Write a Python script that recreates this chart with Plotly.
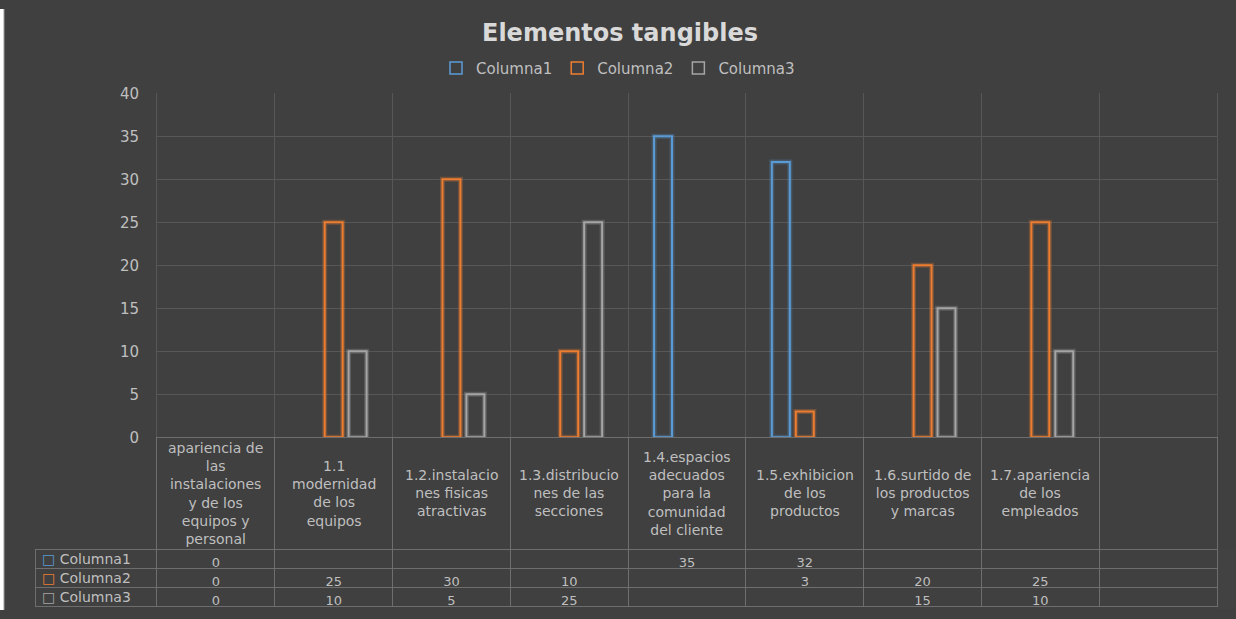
import plotly.graph_objects as go

# ---------------- data ----------------
categories = [
    "apariencia de<br>las<br>instalaciones<br>y de los<br>equipos y<br>personal",
    "1.1<br>modernidad<br>de los<br>equipos",
    "1.2.instalacio<br>nes fisicas<br>atractivas",
    "1.3.distribucio<br>nes de las<br>secciones",
    "1.4.espacios<br>adecuados<br>para la<br>comunidad<br>del cliente",
    "1.5.exhibicion<br>de los<br>productos",
    "1.6.surtido de<br>los productos<br>y marcas",
    "1.7.apariencia<br>de los<br>empleados",
    " ",
]
series_names = ["Columna1", "Columna2", "Columna3"]
columna1 = [0, None, None, None, 35, 32, None, None, None]
columna2 = [0, 25, 30, 10, None, 3, 20, 25, None]
columna3 = [0, 10, 5, 25, None, None, 15, 10, None]
y_ticks = [0, 5, 10, 15, 20, 25, 30, 35, 40]
title_text = "Elementos tangibles"

# ---------------- style ----------------
W, H = 1236, 619
BG = "#404040"
GRID = "#575757"
BORDER = "#6e6e6e"
TXT = "#bfbfbf"
FONT = "DejaVu Sans"
colors = ["#5B9BD5", "#ED7D31", "#A5A5A5"]
glows = ["rgba(91,155,213,0.28)", "rgba(237,125,49,0.28)", "rgba(165,165,165,0.28)"]
series = [columna1, columna2, columna3]

# the page snapshot places the figure slightly lower and a little compressed;
# these two numbers convert target screen pixels into paper fractions
OFF, SC = 8.7, 0.971

def px_x(p):
    return p / W

def px_y(p):
    return 1 - ((p - OFF) / SC) / H

fig = go.Figure()

for name, vals, col, glow in zip(series_names, series, colors, glows):
    # zero-height bars collapse onto the axis line (invisible, as in the original)
    w_main = [0 if v == 0 else 2 for v in vals]
    w_glow = [0 if v == 0 else 5 for v in vals]
    fig.add_trace(go.Bar(
        x=categories, y=vals, offsetgroup=name, showlegend=False, hoverinfo="skip",
        marker=dict(color="rgba(0,0,0,0)", line=dict(color=glow, width=w_glow)),
    ))
    fig.add_trace(go.Bar(
        x=categories, y=vals, name=name, offsetgroup=name, showlegend=False,
        marker=dict(color="rgba(0,0,0,0)", line=dict(color=col, width=w_main)),
    ))
    # legend entry (same slot, no visible bars)
    fig.add_trace(go.Bar(
        x=categories, y=[None] * len(categories), name=name, offsetgroup=name,
        showlegend=True, hoverinfo="skip",
        marker=dict(color="rgba(0,0,0,0)", line=dict(color=col, width=1.5)),
    ))

# data table under the chart
def fmt(v):
    return "" if v is None else str(v)

cell_cols = [[""] * len(series)] + [[fmt(s[i]) for s in series] for i in range(len(categories))]

HEADER_H = 112
ROW_H = 19.2

fig.add_trace(go.Table(
    domain=dict(x=[px_x(35), px_x(1217)], y=[0, px_y(437)]),
    columnwidth=[122] + [117.8] * len(categories),
    header=dict(
        values=[""] * (len(categories) + 1),
        height=HEADER_H,
        fill=dict(color=["rgba(0,0,0,0)"] + [BG] * len(categories)),
        line=dict(color=["rgba(0,0,0,0)"] + [BORDER] * len(categories), width=1),
    ),
    cells=dict(
        values=cell_cols,
        height=ROW_H,
        fill=dict(color=BG),
        line=dict(color=BORDER, width=1),
        align=["left"] + ["center"] * len(categories),
        font=dict(family=FONT, size=13, color=TXT),
    ),
))

annotations = []
for c in categories:
    annotations.append(dict(
        x=c, xref="x", y=px_y(437 + HEADER_H / 2), yref="paper", yanchor="middle",
        text=c, showarrow=False, align="center",
        font=dict(family=FONT, size=14, color=TXT),
    ))
# row labels of the data table (legend keys + series names)
for k, (n, c) in enumerate(zip(series_names, colors)):
    annotations.append(dict(
        x=px_x(40), xref="paper", xanchor="left",
        y=px_y(437 + HEADER_H + ROW_H * (k + 0.5)), yref="paper", yanchor="middle",
        text=f"<span style='color:{c}'>□</span> {n}", showarrow=False,
        font=dict(family=FONT, size=14, color=TXT),
    ))

fig.update_layout(
    width=W, height=H,
    autosize=False,
    margin=dict(l=0, r=0, t=0, b=0),
    paper_bgcolor=BG,
    plot_bgcolor="rgba(0,0,0,0)",
    barmode="group",
    bargap=0.39,
    bargroupgap=0.25,
    title=dict(text=f"<b>{title_text}</b>", x=px_x(620), xanchor="center",
               y=px_y(32), yanchor="middle", yref="paper",
               font=dict(family=FONT, size=24, color="#d9d9d9")),
    legend=dict(orientation="h", x=0.5, xanchor="center", y=px_y(68), yanchor="middle",
                font=dict(family=FONT, size=15, color=TXT), bgcolor="rgba(0,0,0,0)",
                itemwidth=30, tracegroupgap=0),
    xaxis=dict(
        domain=[px_x(157), px_x(1217)], type="category", categoryarray=categories,
        range=[-0.5, len(categories) - 0.5],
        tickson="boundaries", showgrid=True, gridcolor=GRID, gridwidth=1,
        showticklabels=False, ticks="", showline=False, zeroline=False,
    ),
    yaxis=dict(
        domain=[px_y(437), px_y(93)], range=[0, 40], tickvals=y_ticks,
        showgrid=True, gridcolor=GRID, gridwidth=1, zeroline=False,
        showline=True, linecolor=GRID, mirror=True,
        ticks="", ticklabelstandoff=14,
        tickfont=dict(family=FONT, size=15, color=TXT),
    ),
    shapes=[
        # white left strip with the thin grey edge of the chart area
        dict(type="rect", xref="paper", yref="paper", layer="below",
             x0=0, x1=px_x(4), y0=0, y1=1, fillcolor="white", line=dict(width=0)),
        dict(type="line", xref="paper", yref="paper", layer="below",
             x0=px_x(4), x1=px_x(4), y0=0, y1=1, line=dict(color="#9a9a9a", width=1)),
    ],
    annotations=annotations,
    showlegend=True,
)

fig.write_html(
    "out.html",
    config={"responsive": False},
    post_script=(
        "document.documentElement.style.background="
        "'linear-gradient(#ffffff 0px, #ffffff 6px, #9a9a9a 6px, #9a9a9a 7px, #404040 7px)';"
        "document.body.style.margin='0';"
    ),
)
